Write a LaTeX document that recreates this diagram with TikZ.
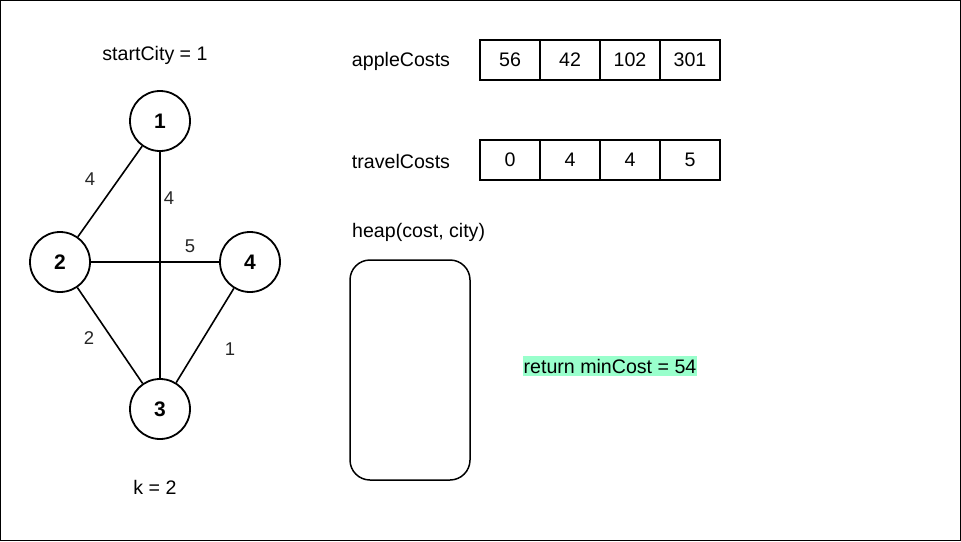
\documentclass[tikz,border=0pt]{standalone}
\usepackage{fontspec}
\setmainfont{Liberation Sans}
\definecolor{mint}{RGB}{153,255,204}
\begin{document}
\begin{tikzpicture}[x=1pt,y=-1pt,
  city/.style={draw, circle, line width=1.8pt, minimum size=60pt, inner sep=0pt, font=\fontsize{21}{24}\selectfont\bfseries},
  edge/.style={line width=1.6pt},
  elabel/.style={font=\fontsize{18.5}{20}\selectfont, inner sep=0pt, text=black!85},
  txt/.style={font=\fontsize{19.6}{22}\selectfont, inner sep=0pt},
  cell/.style={draw, line width=1.5pt, minimum width=60pt, minimum height=40pt, inner sep=0pt, font=\fontsize{19.6}{22}\selectfont}]
\useasboundingbox (0,0) rectangle (961,541);
\draw[line width=1pt] (0.5,0.5) rectangle (960.5,540.5);
% graph
\node[city] (n1) at (160,121) {1};
\node[city] (n2) at (60,262) {2};
\node[city] (n4) at (250,262) {4};
\node[city] (n3) at (160,409) {3};
\draw[edge] (n1) -- (n2);
\draw[edge] (n1) -- (n3);
\draw[edge] (n2) -- (n4);
\draw[edge] (n2) -- (n3);
\draw[edge] (n4) -- (n3);
\node[elabel] (l12) at (90,179) {4};
\node[elabel] (l13) at (169,198) {4};
\node[elabel] (l24) at (190,246) {5};
\node[elabel] (l23) at (89,338) {2};
\node[elabel] (l43) at (230,349) {1};
\node[txt] (start) at (155,55) {startCity = 1};
\node[txt] (k) at (155,487) {k = 2};
% arrays
\node[txt] (ac) at (401,61) {appleCosts};
\node[cell] (a1) at (510,60) {56};
\node[cell] (a2) at (570,60) {42};
\node[cell] (a3) at (630,60) {102};
\node[cell] (a4) at (690,60) {301};
\node[txt] (tc) at (401,161) {travelCosts};
\node[cell] (t1) at (510,160) {0};
\node[cell] (t2) at (570,160) {4};
\node[cell] (t3) at (630,160) {4};
\node[cell] (t4) at (690,160) {5};
\node[txt, anchor=west] (hp) at (352,232) {heap(cost, city)};
\draw[line width=1.5pt, rounded corners=20pt] (350,260) rectangle (470,480);
\node[txt, fill=mint, inner xsep=1pt, inner ysep=3pt] (ret) at (610,366) {return minCost = 54};
\end{tikzpicture}
\end{document}
